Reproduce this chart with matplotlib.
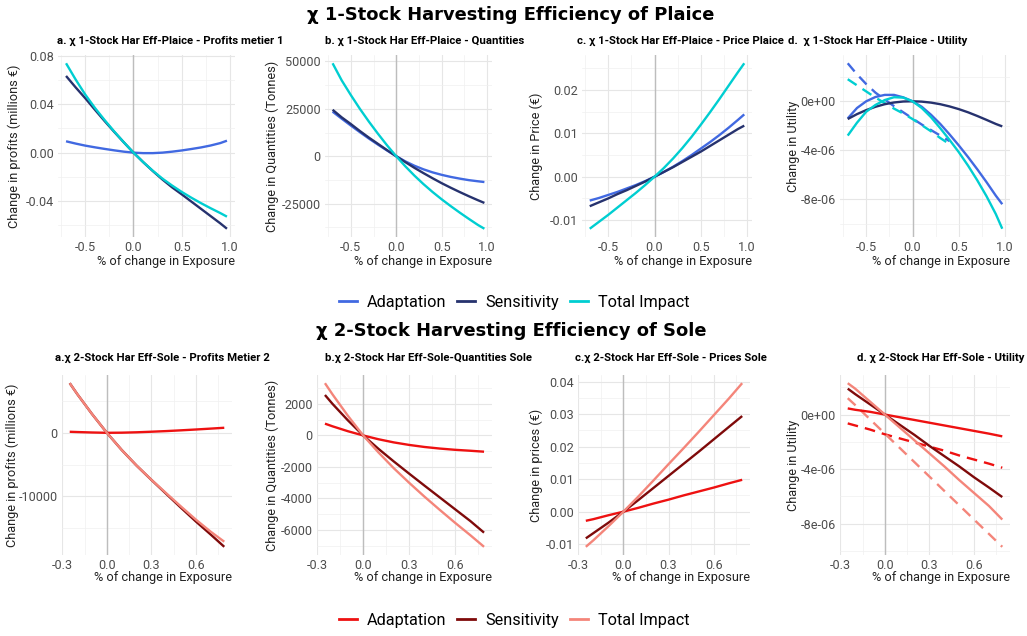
import matplotlib
matplotlib.use("Agg")
import matplotlib.pyplot as plt
from matplotlib.lines import Line2D
import numpy as np

plt.rcParams['font.family'] = ['Roboto', 'DejaVu Sans']
plt.rcParams['axes.unicode_minus'] = False

# ---------------- data ----------------
series_names = ["Adaptation", "Sensitivity", "Total Impact"]
plaice_colors = ["#4169E1", "#26326E", "#00CED1"]
sole_colors = ["#EE1111", "#7F0A0A", "#F4857A"]

x_plaice = [-0.7, -0.6, -0.5, -0.4, -0.3, -0.2, -0.1, 0.0, 0.1, 0.2, 0.3, 0.4, 0.5, 0.6, 0.7, 0.8, 0.9, 0.97]
x_plaice_dash = [-0.7, -0.6, -0.5, -0.4, -0.3, -0.2, -0.1, 0.0, 0.1, 0.2, 0.3, 0.4]

# a. Plaice profits metier 1 (millions EUR)
pl_profit_adapt = [0.0094, 0.0075, 0.0058, 0.0044, 0.0031, 0.0019, 0.0008, 0.0, -0.0004, -0.0004, 0.0000, 0.0008, 0.0018, 0.0030, 0.0043, 0.0059, 0.0079, 0.0099]
pl_profit_sens = [0.0635, 0.054, 0.045, 0.0355, 0.0262, 0.0172, 0.0085, 0.0, -0.0078, -0.0152, -0.0222, -0.0287, -0.0345, -0.0405, -0.0465, -0.0525, -0.0585, -0.063]
pl_profit_total = [0.074, 0.0605, 0.048, 0.037, 0.027, 0.0175, 0.0085, 0.0, -0.0078, -0.015, -0.0215, -0.0272, -0.0325, -0.0373, -0.0418, -0.0460, -0.0500, -0.053]

# b. Plaice quantities (tonnes)
pl_qty_adapt = [23500, 19800, 16200, 12700, 9300, 6100, 3000, 0, -2700, -5000, -6900, -8500, -9800, -10900, -11800, -12600, -13200, -13600]
pl_qty_sens = [24500, 20500, 17000, 13300, 9800, 6500, 3200, 0, -3100, -6100, -8900, -11600, -14200, -16600, -18900, -21100, -23200, -24600]
pl_qty_total = [49000, 40000, 32300, 25000, 18200, 11800, 5700, 0, -5300, -10200, -14700, -18850, -22700, -26300, -29750, -33050, -36250, -38200]

# c. Plaice price (EUR)
pl_price_adapt = [-0.0055, -0.0049, -0.0042, -0.0035, -0.0027, -0.0019, -0.0010, 0.0, 0.0011, 0.0023, 0.0036, 0.0050, 0.0065, 0.0080, 0.0096, 0.0113, 0.0131, 0.0144]
pl_price_sens = [-0.0068, -0.0059, -0.0050, -0.0040, -0.0031, -0.0021, -0.0011, 0.0, 0.0011, 0.0022, 0.0034, 0.0046, 0.0058, 0.0071, 0.0084, 0.0097, 0.0110, 0.0118]
pl_price_total = [-0.0120, -0.0104, -0.0088, -0.0071, -0.0054, -0.0037, -0.0019, 0.0, 0.0020, 0.0042, 0.0066, 0.0092, 0.0120, 0.0149, 0.0179, 0.0210, 0.0241, 0.0262]

# d. Plaice utility (x 1e-6)
pl_util_adapt = [-1.4, -0.55, 0.0, 0.35, 0.52, 0.52, 0.32, 0.0, -0.45, -1.1, -1.85, -2.7, -3.6, -4.55, -5.55, -6.6, -7.7, -8.4]
pl_util_sens = [-1.45, -1.05, -0.72, -0.45, -0.24, -0.1, -0.02, 0.0, -0.03, -0.11, -0.24, -0.42, -0.64, -0.9, -1.2, -1.52, -1.85, -2.05]
pl_util_total = [-2.8, -1.75, -0.85, -0.3, 0.1, 0.33, 0.3, 0.0, -0.55, -1.3, -2.2, -3.15, -4.15, -5.25, -6.45, -7.75, -9.2, -10.4]
pl_util_adapt_dash = [3.1, 2.2, 1.4, 0.7, 0.15, -0.4, -0.9, -1.4, -1.9, -2.35, -2.8, -3.25]
pl_util_total_dash = [1.8, 1.3, 0.8, 0.3, -0.15, -0.6, -1.0, -1.45, -1.95, -2.45, -3.0, -3.5]

x_sole = [-0.25, -0.2, -0.1, 0.0, 0.1, 0.2, 0.3, 0.4, 0.5, 0.6, 0.7, 0.79]

# a. Sole profits metier 2
so_profit_adapt = [160, 120, 50, 0, 20, 80, 170, 270, 390, 520, 660, 790]
so_profit_sens = [7790, 6100, 2950, 0, -2700, -5150, -7400, -9600, -11800, -13950, -16000, -17900]
so_profit_total = [7790, 6100, 2950, 0, -2700, -5150, -7380, -9500, -11600, -13650, -15550, -17100]

# b. Sole quantities
so_qty_adapt = [750, 580, 270, 0, -240, -440, -600, -730, -830, -910, -970, -1030]
so_qty_sens = [2570, 2000, 960, 0, -850, -1650, -2420, -3180, -3930, -4680, -5430, -6170]
so_qty_total = [3320, 2600, 1250, 0, -1080, -2080, -3000, -3880, -4720, -5540, -6330, -7070]

# c. Sole prices
so_price_adapt = [-0.0028, -0.0023, -0.0011, 0.0, 0.0012, 0.0025, 0.0037, 0.0050, 0.0062, 0.0074, 0.0087, 0.0098]
so_price_sens = [-0.0082, -0.0066, -0.0034, 0.0, 0.0036, 0.0073, 0.0110, 0.0147, 0.0184, 0.0222, 0.0260, 0.0294]
so_price_total = [-0.0108, -0.0088, -0.0045, 0.0, 0.0047, 0.0096, 0.0146, 0.0195, 0.0245, 0.0296, 0.0347, 0.0395]

# d. Sole utility (x 1e-6)
so_util_adapt = [0.45, 0.35, 0.2, 0.0, -0.2, -0.4, -0.6, -0.8, -1.0, -1.2, -1.4, -1.6]
so_util_sens = [1.9, 1.5, 0.75, 0.0, -0.75, -1.5, -2.3, -3.05, -3.8, -4.6, -5.35, -6.05]
so_util_total = [2.3, 1.9, 0.95, 0.0, -0.95, -1.9, -2.85, -3.8, -4.8, -5.75, -6.7, -7.7]
so_util_adapt_dash = [-0.65, -0.8, -1.1, -1.45, -1.75, -2.05, -2.35, -2.65, -3.0, -3.3, -3.6, -3.9]
so_util_total_dash = [1.2, 0.7, -0.35, -1.4, -2.45, -3.5, -4.55, -5.6, -6.65, -7.7, -8.75, -9.7]
util_scale = 1e-6

# ticks
x_ticks_plaice = [-0.5, 0.0, 0.5, 1.0]
x_ticklabels_plaice = ["-0.5", "0.0", "0.5", "1.0"]
x_ticks_sole = [-0.3, 0.0, 0.3, 0.6]
x_ticklabels_sole = ["-0.3", "0.0", "0.3", "0.6"]

y_ticks = {
    "pa": ([-0.04, 0.0, 0.04, 0.08], ["-0.04", "0.00", "0.04", "0.08"]),
    "pb": ([-25000, 0, 25000, 50000], ["-25000", "0", "25000", "50000"]),
    "pc": ([-0.01, 0.0, 0.01, 0.02], ["-0.01", "0.00", "0.01", "0.02"]),
    "pd": ([-8e-6, -4e-6, 0.0], ["-8e-06", "-4e-06", "0e+00"]),
    "sa": ([-10000, 0], ["-10000", "0"]),
    "sb": ([-6000, -4000, -2000, 0, 2000], ["-6000", "-4000", "-2000", "0", "2000"]),
    "sc": ([-0.01, 0.0, 0.01, 0.02, 0.03, 0.04], ["-0.01", "0.00", "0.01", "0.02", "0.03", "0.04"]),
    "sd": ([-8e-6, -4e-6, 0.0], ["-8e-06", "-4e-06", "0e+00"]),
}

titles = {
    "pa": "a. χ 1-Stock Har Eff-Plaice - Profits metier 1",
    "pb": "b. χ 1-Stock Har Eff-Plaice - Quantities",
    "pc": "c. χ 1-Stock Har Eff-Plaice - Price Plaice",
    "pd": "d.  χ 1-Stock Har Eff-Plaice - Utility",
    "sa": "a.χ 2-Stock Har Eff-Sole - Profits Metier 2",
    "sb": "b.χ 2-Stock Har Eff-Sole-Quantities Sole",
    "sc": "c.χ 2-Stock Har Eff-Sole - Prices Sole",
    "sd": "d. χ 2-Stock Har Eff-Sole - Utility",
}
ylabels = {
    "pa": "Change in profits (millions €)",
    "pb": "Change in Quantities (Tonnes)",
    "pc": "Change in Price (€)",
    "pd": "Change in Utility",
    "sa": "Change in profits (millions €)",
    "sb": "Change in Quantities (Tonnes)",
    "sc": "Change in prices (€)",
    "sd": "Change in Utility",
}
xlabel = "% of change in Exposure"
main_title_1 = "χ 1-Stock Harvesting Efficiency of Plaice"
main_title_2 = "χ 2-Stock Harvesting Efficiency of Sole"

# ---------------- layout (pixels) ----------------
W, H = 1027, 636
fig = plt.figure(figsize=(W / 100, H / 100), dpi=100)
fig.patch.set_facecolor("white")

# key: (left, top, right, bottom, title_x, ylabel_x)
boxes = {
    "pa": (58, 55, 235, 237, 57, 14),
    "pb": (325, 55, 492, 237, 325, 272),
    "pc": (582, 55, 752, 237, 577, 536),
    "pd": (840, 55, 1010, 237, 788, 794),
    "sa": (62, 375, 232, 555, 55, 12),
    "sb": (317, 375, 492, 555, 325, 272),
    "sc": (578, 375, 750, 555, 575, 536),
    "sd": (840, 375, 1010, 555, 857, 794),
}
title_y = {"p": 41, "s": 358}
xlabel_y = {"p": 261, "s": 578}

TICK_COLOR = "#4d4d4d"
LW = 1.7


def make_axes(key):
    l, t, r, b, tx, lx = boxes[key]
    ax = fig.add_axes([l / W, 1 - b / H, (r - l) / W, (b - t) / H])
    return ax


def finish(ax, key, xt, xtl):
    l, t, r, b, tx, lx = boxes[key]
    ax.margins(x=0.05, y=0.05)
    ax.autoscale_view()
    xl = ax.get_xlim()
    yl = ax.get_ylim()
    yt, ytl = y_ticks[key]
    ax.set_xticks(xt)
    ax.set_xticklabels(xtl)
    ax.set_yticks(yt)
    ax.set_yticklabels(ytl)
    sx = xt[1] - xt[0]
    xm = [v + sx / 2 for v in [xt[0] - sx] + list(xt)]
    ax.set_xticks([v for v in xm if xl[0] <= v <= xl[1]], minor=True)
    sy = yt[1] - yt[0]
    ym = [v + sy / 2 for v in [yt[0] - sy] + list(yt)]
    ax.set_yticks([v for v in ym if yl[0] <= v <= yl[1]], minor=True)
    ax.set_xlim(xl)
    ax.set_ylim(yl)
    ax.grid(which="major", color="#e6e6e6", lw=0.8, zorder=0)
    ax.grid(which="minor", color="#f0f0f0", lw=0.5, zorder=0)
    ax.set_axisbelow(True)
    for s in ax.spines.values():
        s.set_visible(False)
    ax.tick_params(which="both", length=0)
    ax.tick_params(axis="both", labelsize=9.1, labelcolor=TICK_COLOR, pad=3)
    ax.axvline(0, color="#bdbdbd", lw=1.0, zorder=1)
    # labels
    ax.set_ylabel(ylabels[key], fontsize=9.2, color="#222222")
    ax.yaxis.label.set_va("center")
    ax.yaxis.set_label_coords((lx - l) / (r - l), 0.5)
    ax.set_xlabel(xlabel, fontsize=9.2, color="#222222")
    ax.xaxis.label.set_ha("right")
    ax.xaxis.label.set_va("center")
    ax.xaxis.set_label_coords(1.0, (b - xlabel_y[key[0]]) / (b - t))
    fig.text(tx / W, 1 - title_y[key[0]] / H, titles[key], fontsize=8.2,
             fontweight="bold", ha="left", va="center", color="black")


def draw_panel(key, x, ys, colors, xt, xtl, dashed=None, scale=1.0):
    ax = make_axes(key)
    if dashed is not None:
        xd, dlist = dashed
        for yv, c in dlist:
            ax.plot(xd, np.asarray(yv) * scale, color=c, lw=LW, ls=(0, (4.5, 3.0)), zorder=3)
    for yv, c in zip(ys, colors):
        ax.plot(x, np.asarray(yv) * scale, color=c, lw=LW, zorder=3, solid_capstyle="butt")
    finish(ax, key, xt, xtl)
    return ax


draw_panel("pa", x_plaice, [pl_profit_adapt, pl_profit_sens, pl_profit_total], plaice_colors,
           x_ticks_plaice, x_ticklabels_plaice)
draw_panel("pb", x_plaice, [pl_qty_adapt, pl_qty_sens, pl_qty_total], plaice_colors,
           x_ticks_plaice, x_ticklabels_plaice)
draw_panel("pc", x_plaice, [pl_price_adapt, pl_price_sens, pl_price_total], plaice_colors,
           x_ticks_plaice, x_ticklabels_plaice)
draw_panel("pd", x_plaice, [pl_util_adapt, pl_util_sens, pl_util_total], plaice_colors,
           x_ticks_plaice, x_ticklabels_plaice,
           dashed=(x_plaice_dash, [(pl_util_adapt_dash, plaice_colors[0]), (pl_util_total_dash, plaice_colors[2])]),
           scale=util_scale)

draw_panel("sa", x_sole, [so_profit_adapt, so_profit_sens, so_profit_total], sole_colors,
           x_ticks_sole, x_ticklabels_sole)
draw_panel("sb", x_sole, [so_qty_adapt, so_qty_sens, so_qty_total], sole_colors,
           x_ticks_sole, x_ticklabels_sole)
draw_panel("sc", x_sole, [so_price_adapt, so_price_sens, so_price_total], sole_colors,
           x_ticks_sole, x_ticklabels_sole)
draw_panel("sd", x_sole, [so_util_adapt, so_util_sens, so_util_total], sole_colors,
           x_ticks_sole, x_ticklabels_sole,
           dashed=(x_sole, [(so_util_adapt_dash, sole_colors[0]), (so_util_total_dash, sole_colors[2])]),
           scale=util_scale)

# main titles
fig.text(511 / W, 1 - 15 / H, main_title_1, fontsize=12.9, fontweight="bold",
         family="DejaVu Sans", ha="center", va="center")
fig.text(511 / W, 1 - 331 / H, main_title_2, fontsize=12.9, fontweight="bold",
         family="DejaVu Sans", ha="center", va="center")

# legends
for cols, yy in [(plaice_colors, 302), (sole_colors, 620)]:
    handles = [Line2D([0], [0], color=c, lw=2.0) for c in cols]
    fig.legend(handles, series_names, loc="center", bbox_to_anchor=(514 / W, 1 - yy / H),
               ncol=3, frameon=False, fontsize=11.7, handlelength=1.1, handletextpad=0.6,
               columnspacing=0.7, borderaxespad=0, borderpad=0)

fig.savefig("out.png", dpi=100, facecolor="white")
